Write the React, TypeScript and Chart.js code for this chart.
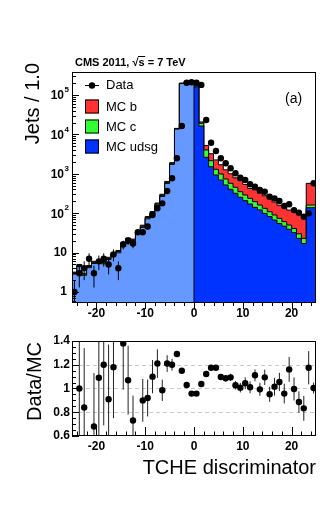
import React, { useEffect, useRef } from "react";
import { Chart, registerables } from "chart.js";

Chart.register(...registerables);

// ---------------- data ----------------
const binCenters = [
  -24.5, -23.5, -22.5, -21.5, -20.5, -19.5, -18.5, -17.5, -16.5, -15.5,
  -14.5, -13.5, -12.5, -11.5, -10.5, -9.5, -8.5, -7.5, -6.5, -5.5,
  -4.5, -3.5, -2.5, -1.5, -0.5, 0.5, 1.5, 2.5, 3.5, 4.5,
  5.5, 6.5, 7.5, 8.5, 9.5, 10.5, 11.5, 12.5, 13.5, 14.5,
  15.5, 16.5, 17.5, 18.5, 19.5, 20.5, 21.5, 22.5, 23.5, 24.5,
];

const dataCounts = [
  1, 3, 4, 7, 3, 6, 7, 5, 9, 4,
  16, 20, 17, 33, 33, 46, 90, 133, 178, 366,
  768, 2470, 16300, 205000, 210000, 204000, 180000, 23200, 6160, 3790,
  2470, 1845, 1380, 1030, 795, 697, 541, 471, 388, 351,
  263, 238, 204, 152, 168, 120, 103, 81, 99, 574,
];

const dataErrors = [
  1, 1.7, 2, 2.6, 1.7, 2.4, 2.6, 2.2, 3, 2,
  4, 4.5, 4.1, 5.7, 5.7, 6.8, 9.5, 11.5, 13.3, 19,
  28, 50, 128, 453, 458, 452, 424, 152, 78, 62,
  50, 43, 37, 32, 28, 26, 23, 22, 20, 19,
  16, 15, 14, 12, 13, 11, 10, 9, 10, 24,
];

const mcUdsg = [
  3.2, 2.85, 4.4, 2.65, 4.15, 5.3, 5.3, 5.2, 6.7, 8.8,
  9.9, 16.3, 20.7, 19.4, 31.7, 43.6, 72, 97, 159, 266,
  570, 1730, 13600, 196000, 215000, 205000, 160000, 16300, 2620, 1510,
  933, 696, 520, 404, 320, 253, 208, 171, 141, 121,
  99, 82, 67, 55, 47, 39, 32, 23, 17, 138,
];

const mcC = [
  0.2, 0.2, 0.3, 0.2, 0.3, 0.35, 0.35, 0.35, 0.45, 0.6,
  0.7, 1.1, 1.4, 1.3, 2.2, 3.0, 5, 6.6, 11, 18,
  38, 115, 420, 2200, 3000, 5500, 9000, 2800, 1400, 640,
  367, 292, 218, 170, 134, 98, 82, 67, 55, 40,
  34, 27, 23, 19, 14, 11, 9, 7, 6, 23,
];

const mcB = [
  0.2, 0.15, 0.3, 0.15, 0.25, 0.35, 0.35, 0.35, 0.45, 0.6,
  0.7, 1.1, 1.4, 1.3, 2.1, 3.0, 5, 6.4, 11, 18,
  32, 70, 180, 800, 1000, 2500, 4000, 1600, 1220, 1080,
  950, 712, 522, 426, 336, 317, 246, 186, 195, 160,
  144, 125, 103, 85, 84, 70, 75, 67, 61, 411,
];

const ratioValues: (number | null)[] = [
  null, 1.0, 0.84, null, 0.68, 1.09, 1.2, 0.91, 1.18, null,
  1.38, 1.07, 0.73, null, 0.9, 0.92, 1.1, 1.21, 0.985, 1.21,
  1.2, 1.29, 1.15, 1.03, 0.957, 0.957, 1.038, 1.122, 1.175, 1.175,
  1.097, 1.086, 1.094, 1.027, 1.007, 1.044, 1.01, 1.111, 0.993, 1.094,
  0.951, 1.015, 1.055, 0.957, 1.161, 0.996, 0.886, 0.833, 1.175, 1.004,
];

const ratioErrors = [
  0, 0.6, 0.5, 0, 0.45, 0.6, 0.51, 0.46, 0.43, 0,
  0.39, 0.29, 0.21, 0, 0.18, 0.155, 0.14, 0.12, 0.09, 0.07,
  0.05, 0.02, 0.01, 0.003, 0.003, 0.003, 0.003, 0.008, 0.016, 0.02,
  0.025, 0.028, 0.03, 0.035, 0.04, 0.05, 0.05, 0.05, 0.055, 0.065,
  0.063, 0.075, 0.077, 0.083, 0.105, 0.097, 0.09, 0.105, 0.14, 0.046,
];

const xTickLabels = [-20, -10, 0, 10, 20];
const yTickValues = [1, 10, 100, 1000, 10000, 100000];
const yTickExponents = [0, 1, 2, 3, 4, 5];
const ratioTickLabels = [0.6, 0.8, 1, 1.2, 1.4];
const ratioGridValues = [0.8, 1, 1.2];
const legendLabels = ["Data", "MC b", "MC c", "MC udsg"];

const titleText = "CMS 2011, ";
const energyText = " = 7 TeV";
const panelLabel = "(a)";
const yTitleTop = "Jets / 1.0";
const yTitleRatio = "Data/MC";
const xTitle = "TCHE discriminator";

// ---------------- styling ----------------
const FONT = '"Liberation Sans", Arial, Helvetica, sans-serif';
const X_MIN = -25;
const X_MAX = 25;
const Y_MIN = 0.526;
const Y_MAX = 383000;
const R_MIN = 0.6;
const R_MAX = 1.4;
const BIN_HALF = 0.5;

const COL_UDSG_NEG = "#6699ff";
const COL_UDSG_POS = "#0033ff";
const COL_C = "#33ff33";
const COL_B = "#ff3333";

// ---------------- helpers ----------------
const udsgPlusC = mcUdsg.map((v, i) => v + mcC[i]);
const mcTotal = udsgPlusC.map((v, i) => v + mcB[i]);
const NEG_END = binCenters.findIndex((c) => c > 0);

function stepPoints(values: number[], from: number, to: number) {
  const pts: { x: number; y: number }[] = [];
  for (let i = from; i < to; i++) pts.push({ x: binCenters[i] - BIN_HALF, y: values[i] });
  pts.push({ x: binCenters[to - 1] + BIN_HALF, y: values[to - 1] });
  return pts;
}

function drawErrorBars(chart: any, values: (number | null)[], errors: number[], color: string) {
  const { ctx, chartArea: a, scales } = chart;
  const xs = scales.x;
  const ys = scales.y;
  ctx.save();
  ctx.beginPath();
  ctx.rect(a.left, a.top, a.right - a.left, a.bottom - a.top);
  ctx.clip();
  ctx.strokeStyle = color;
  ctx.lineWidth = 1;
  values.forEach((v, i) => {
    if (v == null || !errors[i]) return;
    const px = xs.getPixelForValue(binCenters[i]);
    const lo = v - errors[i];
    const yTop = ys.getPixelForValue(v + errors[i]);
    const yBot = lo > 0 ? ys.getPixelForValue(lo) : a.bottom + 20;
    ctx.beginPath();
    ctx.moveTo(px, yTop);
    ctx.lineTo(px, yBot);
    ctx.stroke();
  });
  ctx.restore();
}

function hLine(ctx: CanvasRenderingContext2D, x1: number, x2: number, y: number) {
  ctx.beginPath();
  ctx.moveTo(x1, y);
  ctx.lineTo(x2, y);
  ctx.stroke();
}
function vLine(ctx: CanvasRenderingContext2D, x: number, y1: number, y2: number) {
  ctx.beginPath();
  ctx.moveTo(x, y1);
  ctx.lineTo(x, y2);
  ctx.stroke();
}

function drawFrame(ctx: CanvasRenderingContext2D, a: any) {
  ctx.strokeStyle = "#000";
  ctx.lineWidth = 1;
  const l = Math.round(a.left) + 0.5;
  const t = Math.round(a.top) + 0.5;
  const r = Math.round(a.right) - 0.5;
  const b = Math.round(a.bottom) - 0.5;
  ctx.strokeRect(l, t, r - l, b - t);
}

function rotatedText(ctx: CanvasRenderingContext2D, text: string, cx: number, endY: number, font: string) {
  ctx.save();
  ctx.translate(cx, endY);
  ctx.rotate(-Math.PI / 2);
  ctx.font = font;
  ctx.textAlign = "right";
  ctx.textBaseline = "middle";
  ctx.fillStyle = "#000";
  ctx.fillText(text, 0, 0);
  ctx.restore();
}

// ---------------- top panel plugin ----------------
const topPlugin = {
  id: "topDeco",
  beforeDatasetDraw(chart: any, args: any) {
    if (args.index === 0) drawErrorBars(chart, dataCounts, dataErrors, "#000");
  },
  afterDraw(chart: any) {
    const { ctx, chartArea: a, scales } = chart;
    const xs = scales.x;
    const ys = scales.y;
    ctx.save();
    drawFrame(ctx, a);

    // y ticks (log, inside)
    ctx.strokeStyle = "#000";
    ctx.lineWidth = 1;
    for (let d = -1; d <= 5; d++) {
      for (let k = 1; k <= 9; k++) {
        const v = k * Math.pow(10, d);
        if (v < Y_MIN || v > Y_MAX) continue;
        const py = Math.round(ys.getPixelForValue(v)) + 0.5;
        hLine(ctx, a.left, a.left + (k === 1 ? 7 : 4), py);
      }
    }
    // x ticks (below frame)
    for (let xv = -24; xv <= 24; xv += 2) {
      const px = Math.round(xs.getPixelForValue(xv)) + 0.5;
      const major = xv % 10 === 0;
      vLine(ctx, px, a.bottom, a.bottom + (major ? 6 : 3));
    }

    // y labels
    ctx.fillStyle = "#000";
    ctx.textBaseline = "middle";
    yTickValues.forEach((v, i) => {
      const py = ys.getPixelForValue(v);
      const e = yTickExponents[i];
      ctx.font = `bold 12px ${FONT}`;
      ctx.textAlign = "right";
      if (e < 2) {
        ctx.fillText(String(v), 67, py);
      } else {
        ctx.fillText("10", 64, py + 1);
        ctx.font = `bold 8px ${FONT}`;
        ctx.textAlign = "left";
        ctx.fillText(String(e), 64.5, py - 5);
      }
    });
    // x labels
    ctx.font = `bold 12px ${FONT}`;
    ctx.textAlign = "center";
    xTickLabels.forEach((v) => {
      ctx.fillText(String(v), xs.getPixelForValue(v), 314);
    });

    // y title
    rotatedText(ctx, yTitleTop, 33, 63, `20px ${FONT}`);

    // title with sqrt(s)
    ctx.font = `bold 11px ${FONT}`;
    ctx.textAlign = "left";
    ctx.textBaseline = "alphabetic";
    let tx = 75;
    const ty = 66;
    ctx.fillText(titleText, tx, ty);
    tx += ctx.measureText(titleText).width;
    ctx.fillText("\u221A", tx, ty);
    tx += ctx.measureText("\u221A").width;
    const sw = ctx.measureText("s").width;
    ctx.fillText("s", tx, ty);
    ctx.lineWidth = 1;
    hLine(ctx, tx - 0.5, tx + sw + 0.5, ty - 9.5);
    tx += sw;
    ctx.fillText(energyText, tx, ty);

    // panel label
    ctx.font = `14px ${FONT}`;
    ctx.textBaseline = "middle";
    ctx.fillText(panelLabel, 285, 99);

    // legend
    const lx0 = 85;
    const lx1 = 99;
    const rows = [85, 106.5, 126.5, 146.5];
    const fills = [null, COL_B, COL_C, COL_UDSG_POS];
    ctx.font = `13px ${FONT}`;
    legendLabels.forEach((lab, i) => {
      const cy = rows[i];
      if (i === 0) {
        ctx.strokeStyle = "#000";
        ctx.lineWidth = 1;
        hLine(ctx, lx0, lx1, Math.round(cy) + 0.5);
        ctx.beginPath();
        ctx.arc((lx0 + lx1) / 2, cy + 0.5, 3.2, 0, Math.PI * 2);
        ctx.fillStyle = "#000";
        ctx.fill();
      } else {
        ctx.fillStyle = fills[i] as string;
        ctx.fillRect(lx0, cy - 7, lx1 - lx0, 14);
        ctx.strokeStyle = "#000";
        ctx.lineWidth = 1;
        ctx.strokeRect(lx0 + 0.5, cy - 7 + 0.5, lx1 - lx0 - 1, 13);
      }
      ctx.fillStyle = "#000";
      ctx.textAlign = "left";
      ctx.fillText(lab, 106, cy + 0.5);
    });
    ctx.restore();
  },
};

// ---------------- ratio panel plugin ----------------
const ratioPlugin = {
  id: "ratioDeco",
  beforeDatasetsDraw(chart: any) {
    const { ctx, chartArea: a, scales } = chart;
    ctx.save();
    ctx.strokeStyle = "#c8c8c8";
    ctx.lineWidth = 1;
    ctx.setLineDash([4, 3]);
    ratioGridValues.forEach((v) => {
      const py = Math.round(scales.y.getPixelForValue(v)) + 0.5;
      hLine(ctx, a.left, a.right, py);
    });
    ctx.restore();
  },
  beforeDatasetDraw(chart: any, args: any) {
    if (args.index === 0) drawErrorBars(chart, ratioValues, ratioErrors, "#222");
  },
  afterDraw(chart: any) {
    const { ctx, chartArea: a, scales } = chart;
    const xs = scales.x;
    const ys = scales.y;
    ctx.save();
    drawFrame(ctx, a);
    ctx.strokeStyle = "#000";
    ctx.lineWidth = 1;
    // y ticks inside left
    for (let k = 0; k <= 16; k++) {
      const v = R_MIN + k * 0.05;
      const py = Math.round(ys.getPixelForValue(v)) + 0.5;
      hLine(ctx, a.left, a.left + (k % 4 === 0 ? 7 : 4), py);
    }
    // x ticks inside bottom
    for (let xv = -24; xv <= 24; xv += 2) {
      const px = Math.round(xs.getPixelForValue(xv)) + 0.5;
      const major = xv % 10 === 0;
      vLine(ctx, px, a.bottom, a.bottom - (major ? 9 : 4.5));
    }
    // labels
    ctx.fillStyle = "#000";
    ctx.font = `bold 12px ${FONT}`;
    ctx.textBaseline = "middle";
    ctx.textAlign = "right";
    ratioTickLabels.forEach((v) => {
      ctx.fillText(String(v), 70, ys.getPixelForValue(v));
    });
    ctx.textAlign = "center";
    xTickLabels.forEach((v) => {
      ctx.fillText(String(v), xs.getPixelForValue(v), 117);
    });
    // titles
    rotatedText(ctx, yTitleRatio, 35, 12, `20px ${FONT}`);
    ctx.font = `20px ${FONT}`;
    ctx.textAlign = "right";
    ctx.textBaseline = "middle";
    ctx.fillStyle = "#000";
    ctx.fillText(xTitle, a.right, 138);
    ctx.restore();
  },
};

// ---------------- component ----------------
export default function App() {
  const topRef = useRef<HTMLCanvasElement>(null);
  const botRef = useRef<HTMLCanvasElement>(null);

  useEffect(() => {
    const stepLine = {
      type: "line" as const,
      stepped: "after" as const,
      pointRadius: 0,
      borderColor: "#000",
      borderWidth: 1,
      tension: 0,
    };
    const negUdsg = stepPoints(mcUdsg, 0, NEG_END);
    negUdsg.push({ x: binCenters[NEG_END - 1] + BIN_HALF, y: Y_MIN });

    const top = new Chart(topRef.current as HTMLCanvasElement, {
      type: "line",
      data: {
        datasets: [
          {
            type: "scatter",
            label: "Data",
            data: binCenters.map((x, i) => ({ x, y: dataCounts[i] })),
            pointRadius: 3.2,
            pointBackgroundColor: "#000",
            pointBorderColor: "#000",
            pointBorderWidth: 0,
            showLine: false,
            order: 0,
          } as any,
          { ...stepLine, label: "MC udsg neg", data: negUdsg, fill: "start", backgroundColor: COL_UDSG_NEG, order: 1 },
          { ...stepLine, label: "MC udsg", data: stepPoints(mcUdsg, NEG_END, binCenters.length), fill: "start", backgroundColor: COL_UDSG_POS, order: 1 },
          { ...stepLine, label: "MC c", data: stepPoints(udsgPlusC, 0, binCenters.length), fill: "start", backgroundColor: COL_C, order: 2 },
          { ...stepLine, label: "MC b", data: stepPoints(mcTotal, 0, binCenters.length), fill: "start", backgroundColor: COL_B, order: 3 },
        ],
      },
      options: {
        responsive: false,
        animation: false,
        devicePixelRatio: 1,
        events: [],
        layout: { padding: { left: 72, top: 72, right: 16, bottom: 27 } },
        scales: {
          x: { type: "linear", min: X_MIN, max: X_MAX, display: false },
          y: { type: "logarithmic", min: Y_MIN, max: Y_MAX, display: false },
        },
        plugins: { legend: { display: false }, tooltip: { enabled: false } },
      },
      plugins: [topPlugin],
    } as any);

    const ratioPoints: { x: number; y: number }[] = [];
    ratioValues.forEach((v, i) => {
      if (v != null) ratioPoints.push({ x: binCenters[i], y: v });
    });

    const bot = new Chart(botRef.current as HTMLCanvasElement, {
      type: "scatter",
      data: {
        datasets: [
          {
            label: "Data/MC",
            data: ratioPoints,
            pointRadius: 3.2,
            pointBackgroundColor: "#000",
            pointBorderColor: "#000",
            pointBorderWidth: 0,
          },
        ],
      },
      options: {
        responsive: false,
        animation: false,
        devicePixelRatio: 1,
        events: [],
        layout: { padding: { left: 72, top: 11, right: 16, bottom: 87 } },
        scales: {
          x: { type: "linear", min: X_MIN, max: X_MAX, display: false },
          y: { type: "linear", min: R_MIN, max: R_MAX, display: false },
        },
        plugins: { legend: { display: false }, tooltip: { enabled: false } },
      },
      plugins: [ratioPlugin],
    } as any);

    return () => {
      top.destroy();
      bot.destroy();
    };
  }, []);

  return (
    <div style={{ position: "fixed", left: 0, top: 0, width: 332, height: 523, background: "#fff" }}>
      <canvas ref={topRef} width={332} height={330} style={{ position: "absolute", left: 0, top: 0, display: "block" }} />
      <canvas ref={botRef} width={332} height={193} style={{ position: "absolute", left: 0, top: 330, display: "block" }} />
    </div>
  );
}
